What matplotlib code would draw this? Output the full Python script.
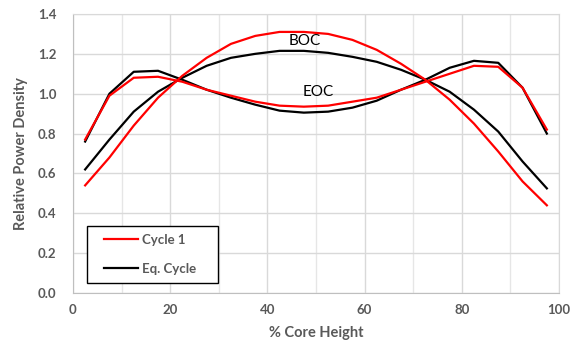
import matplotlib.pyplot as plt
from matplotlib.ticker import MultipleLocator
from matplotlib.patches import Rectangle

plt.rcParams['font.family'] = ['Lato', 'DejaVu Sans']

# axial positions (% core height)
height = [2.5, 7.5, 12.5, 17.5, 22.5, 27.5, 32.5, 37.5, 42.5, 47.5,
          52.5, 57.5, 62.5, 67.5, 72.5, 77.5, 82.5, 87.5, 92.5, 97.5]

cycle1_boc = [0.54, 0.68, 0.84, 0.98, 1.09, 1.18, 1.25, 1.29, 1.31, 1.31,
              1.30, 1.27, 1.22, 1.15, 1.07, 0.97, 0.85, 0.71, 0.56, 0.44]
cycle1_eoc = [0.77, 0.99, 1.08, 1.085, 1.06, 1.02, 0.99, 0.96, 0.94, 0.935,
              0.94, 0.96, 0.98, 1.02, 1.06, 1.10, 1.14, 1.135, 1.03, 0.82]
eq_boc = [0.62, 0.77, 0.91, 1.01, 1.08, 1.14, 1.18, 1.20, 1.215, 1.215,
          1.205, 1.185, 1.16, 1.12, 1.07, 1.01, 0.92, 0.81, 0.66, 0.525]
eq_eoc = [0.76, 1.00, 1.11, 1.115, 1.07, 1.02, 0.98, 0.945, 0.915, 0.905,
          0.91, 0.93, 0.965, 1.02, 1.07, 1.13, 1.165, 1.155, 1.03, 0.80]

gray = '#595959'

fig = plt.figure(figsize=(5.77, 3.47), dpi=100)
ax = fig.add_axes([0.1265, 0.1556, 0.8423, 0.8041])

ax.plot(height, cycle1_boc, color='#ff0000', lw=1.6, label='Cycle 1', zorder=3)
ax.plot(height, cycle1_eoc, color='#ff0000', lw=1.6, zorder=3)
ax.plot(height, eq_boc, color='black', lw=1.6, label='Eq. Cycle', zorder=2)
ax.plot(height, eq_eoc, color='black', lw=1.6, zorder=2)

ax.text(47.7, 1.262, 'BOC', fontsize=11, ha='center', va='center', color='black')
ax.text(50.4, 1.01, 'EOC', fontsize=11, ha='center', va='center', color='black')

ax.set_xlim(0, 100)
ax.set_ylim(0, 1.4)
ax.xaxis.set_major_locator(MultipleLocator(20))
ax.xaxis.set_minor_locator(MultipleLocator(10))
ax.yaxis.set_major_locator(MultipleLocator(0.2))
ax.yaxis.set_major_formatter(lambda v, p: f'{v:.1f}')
ax.grid(which='major', color='#d9d9d9', lw=1.0)
ax.grid(which='minor', axis='x', color='#e6e6e6', lw=1.0)
ax.set_axisbelow(True)
for s in ax.spines.values():
    s.set_color('#d9d9d9')
ax.spines['left'].set_color('#bfbfbf')
ax.spines['bottom'].set_color('#bfbfbf')
ax.tick_params(which='both', length=0, labelsize=9.5, labelcolor=gray)
ax.tick_params(axis='y', pad=12)
ax.tick_params(axis='x', pad=8)
for lab in ax.get_xticklabels() + ax.get_yticklabels():
    lab.set_fontweight('bold')

ax.set_xlabel('% Core Height', fontsize=10.5, fontweight='bold', color=gray, labelpad=7)
ax.set_ylabel('Relative Power Density', fontsize=10.5, fontweight='bold', color=gray, labelpad=7)

# legend box (drawn separately so it can be wider than the entries)
ax.add_patch(Rectangle((0.028, 0.035), 0.27, 0.206, transform=ax.transAxes,
                       facecolor='white', edgecolor='black', lw=1.0, zorder=4))
leg = ax.legend(loc='center', bbox_to_anchor=(0.158, 0.138), frameon=False,
                prop={'size': 9.5, 'weight': 'bold'}, handlelength=2.6,
                labelspacing=1.3, borderpad=0, borderaxespad=0, handletextpad=0.3)
leg.set_zorder(5)
for t in leg.get_texts():
    t.set_color(gray)

plt.savefig('out.png', dpi=100)
